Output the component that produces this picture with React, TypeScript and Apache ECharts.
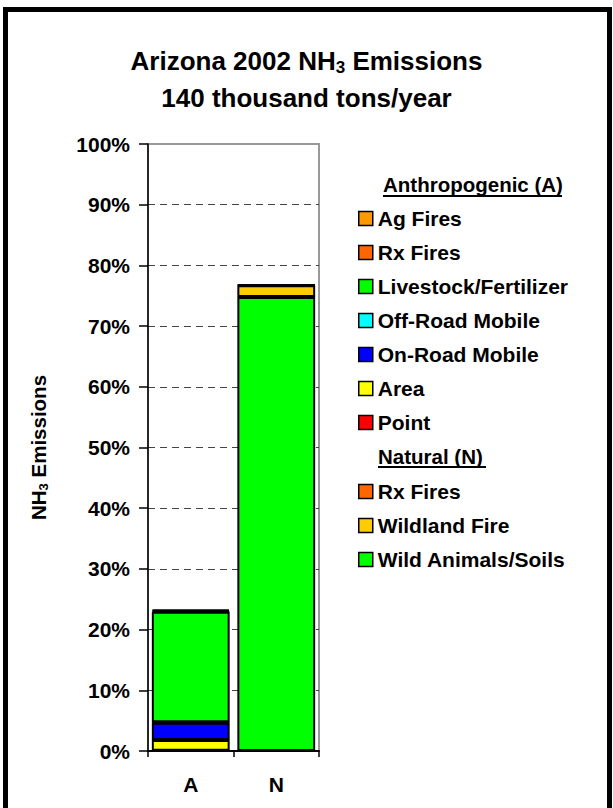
import React, { useEffect, useRef } from "react";
import * as echarts from "echarts";

const categories = ["A", "N"];
const agFires = [0.2, null];
const rxFiresA = [0.15, null];
const livestock = [18.2, null];
const offRoad = [0.1, null];
const onRoad = [2.85, null];
const area = [1.75, null];
const point = [0.05, null];
const rxFiresN = [null, 0.05];
const wildlandFire = [null, 1.95];
const wildAnimals = [null, 74.8];
const yTicks = { min: 0, max: 100, interval: 10 };

const FONT = "'Liberation Sans', Arial, sans-serif";

export default function App() {
  const ref = useRef<HTMLDivElement>(null);
  useEffect(() => {
    if (!ref.current) return;
    const chart = echarts.init(ref.current, undefined, { renderer: "svg" });
    const mk = (name: string, data: (number | null)[], color: string) => ({
      name,
      type: "bar",
      stack: "total",
      data,
      barCategoryGap: "9%",
      itemStyle: { color, borderColor: "#000", borderWidth: 2 },
    });
    const series = [
      mk("Wild Animals/Soils", wildAnimals, "#00ff00"),
      mk("Wildland Fire", wildlandFire, "#ffcc00"),
      mk("Rx Fires (N)", rxFiresN, "#ff6600"),
      mk("Point", point, "#ff0000"),
      mk("Area", area, "#ffff00"),
      mk("On-Road Mobile", onRoad, "#0000ff"),
      mk("Off-Road Mobile", offRoad, "#00ffff"),
      mk("Livestock/Fertilizer", livestock, "#00ff00"),
      mk("Rx Fires (A)", rxFiresA, "#ff6600"),
      mk("Ag Fires", agFires, "#ff9900"),
    ];
    const legendBase = {
      orient: "vertical",
      left: 358,
      padding: 0,
      itemWidth: 14,
      itemHeight: 14,
      itemGap: 13,
      selectedMode: false,
      icon: "rect",
      itemStyle: { borderColor: "#000", borderWidth: 1.5 },
      textStyle: { fontFamily: FONT, fontWeight: "bold", fontSize: 21, lineHeight: 21, color: "#000" },
      formatter: (n: string) => n.replace(/ \((A|N)\)$/, ""),
    };
    chart.setOption({
      animation: false,
      backgroundColor: "#fff",
      title: {
        text: "{a|Arizona 2002 NH}{s|3}{a| Emissions}",
        subtext: "140 thousand tons/year",
        left: "center",
        top: 40,
        itemGap: 11,
        textStyle: {
          rich: {
            a: { fontFamily: FONT, fontWeight: "bold", fontSize: 26, color: "#000" },
            s: { fontFamily: FONT, fontWeight: "bold", fontSize: 17, color: "#000", padding: [14, 0, 0, 0] },
          },
        },
        subtextStyle: { fontFamily: FONT, fontWeight: "bold", fontSize: 26, color: "#000" },
      },
      legend: [
        {
          ...legendBase,
          top: 208,
          data: ["Ag Fires", "Rx Fires (A)", "Livestock/Fertilizer", "Off-Road Mobile", "On-Road Mobile", "Area", "Point"],
        },
        {
          ...legendBase,
          top: 481,
          data: ["Rx Fires (N)", "Wildland Fire", "Wild Animals/Soils"],
        },
      ],
      grid: {
        left: 148,
        right: 294,
        top: 144,
        bottom: 57,
        show: true,
        borderColor: "#999",
        borderWidth: 2,
        backgroundColor: "#fff",
      },
      xAxis: {
        type: "category",
        data: categories,
        axisLine: { lineStyle: { color: "#000", width: 2 } },
        axisTick: { show: true, length: 6, lineStyle: { color: "#000", width: 1.5 } },
        axisLabel: { fontFamily: FONT, fontWeight: "bold", fontSize: 21, color: "#000", margin: 23 },
      },
      yAxis: {
        type: "value",
        min: yTicks.min,
        max: yTicks.max,
        interval: yTicks.interval,
        name: "{a|NH}{s|3}{a| Emissions}",
        nameLocation: "middle",
        nameRotate: 90,
        nameGap: 98,
        nameTextStyle: {
          rich: {
            a: { fontFamily: FONT, fontWeight: "bold", fontSize: 20.5, color: "#000" },
            s: { fontFamily: FONT, fontWeight: "bold", fontSize: 13, color: "#000", padding: [10, 0, 0, 0] },
          },
          fontFamily: FONT,
          fontWeight: "bold",
          fontSize: 20.5,
          color: "#000",
        },
        axisLine: { show: true, lineStyle: { color: "#000", width: 1.5 } },
        axisTick: { show: true, length: 9, lineStyle: { color: "#000", width: 1.5 } },
        axisLabel: {
          formatter: "{value}%",
          fontFamily: FONT,
          fontWeight: "bold",
          fontSize: 21,
          color: "#000",
          margin: 18,
        },
        splitLine: {
          show: true,
          showMinLine: false,
          showMaxLine: false,
          lineStyle: { color: "#444", type: [7, 5], width: 1 },
        },
      },
      graphic: [
        {
          type: "rect",
          shape: { x: 5.5, y: 9.5, width: 604, height: 900 },
          style: { fill: "none", stroke: "#000", lineWidth: 5 },
          silent: true,
        },
        {
          type: "text",
          left: 383,
          top: 174,
          style: { text: "Anthropogenic (A)", fontFamily: FONT, fontWeight: "bold", fontSize: 20.5, fill: "#000" },
        },
        {
          type: "line",
          shape: { x1: 383, y1: 196, x2: 562, y2: 196 },
          style: { stroke: "#000", lineWidth: 2 },
        },
        {
          type: "text",
          left: 378,
          top: 446,
          style: { text: "Natural (N)", fontFamily: FONT, fontWeight: "bold", fontSize: 20.5, fill: "#000" },
        },
        {
          type: "line",
          shape: { x1: 378, y1: 467, x2: 486, y2: 467 },
          style: { stroke: "#000", lineWidth: 2 },
        },
      ],
      series,
    });
    return () => chart.dispose();
  }, []);
  return (
    <div
      ref={ref}
      style={{ position: "absolute", left: 0, top: 0, width: 613, height: 808 }}
    />
  );
}
